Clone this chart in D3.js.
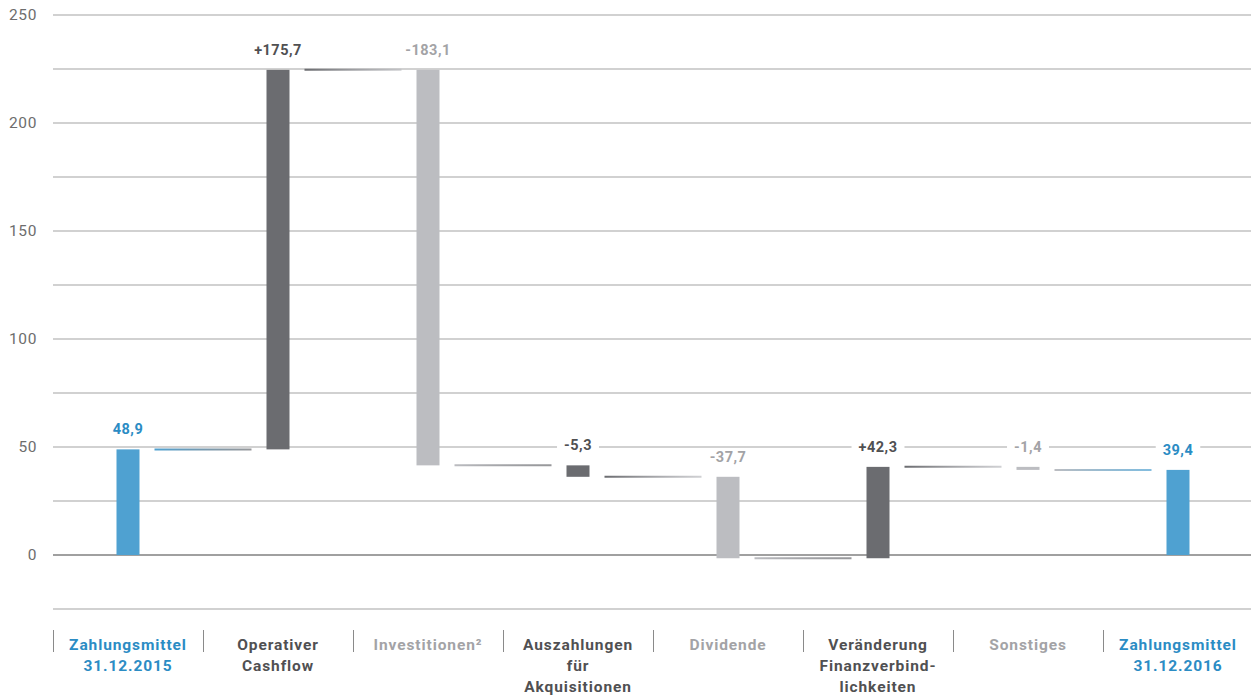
<!DOCTYPE html>
<html>
<head>
<meta charset="utf-8">
<script src="https://cdn.jsdelivr.net/npm/d3@7"></script>
<style>
  html, body { margin: 0; padding: 0; background: #fff; }
  svg { display: block; font-family: Roboto, "Open Sans", sans-serif; }
</style>
</head>
<body>
<svg id="chart" width="1251" height="695"></svg>
<script>
'use strict'

// Kapitalflussrechnung, Mio. EUR
const categories = [
    ['Zahlungsmittel', '31.12.2015'],
    ['Operativer', 'Cashflow'],
    ['Investitionen²'],
    ['Auszahlungen', 'für', 'Akquisitionen'],
    ['Dividende'],
    ['Veränderung', 'Finanzverbind-', 'lichkeiten'],
    ['Sonstiges'],
    ['Zahlungsmittel', '31.12.2016']
]
const values = [48.9, 175.7, -183.1, -5.3, -37.7, 42.3, -1.4, 39.4]
const yTicks = [0, 50, 100, 150, 200, 250]
const gridTicks = [-25, 0, 25, 50, 75, 100, 125, 150, 175, 200, 225, 250]

const W = 1251
const left = 53
const right = 1253

const barFill = { total: '#4fa1d1', dark: '#6b6c70', light: '#bcbdc1' }
const textFill = { total: '#2b8cc4', dark: '#505052', light: '#a3a3a6' }

const tone = (i) => {
    if (i === 0 || i === values.length - 1) {
        return 'total'
    }
    return i % 2 === 1 ? 'dark' : 'light'
}

// running totals for the waterfall
let running = 0
const bars = values.map((v, i) => {
    let start, end
    if (tone(i) === 'total') {
        start = 0
        end = v
        running = v
    } else {
        start = running
        end = running + v
        running = end
    }
    return { i, v, start, end, level: running, tone: tone(i) }
})

const fmt = (d) => {
    const s = Math.abs(d.v).toFixed(1).replace('.', ',')
    if (d.tone === 'total') return s
    return (d.v > 0 ? '+' : '-') + s
}

const x = d3.scaleBand()
    .domain(d3.range(categories.length))
    .range([left, right])
const y = d3.scaleLinear()
    .domain([-25, 250])
    .range([609, 15])

const svg = d3.select('#chart')
const cx = (i) => x(i) + x.bandwidth() / 2
const barW = 23
const gap = 26.5

// grid
svg.append('g')
    .selectAll('line')
    .data(gridTicks)
    .join('line')
    .attr('x1', left)
    .attr('x2', W)
    .attr('y1', d => y(d))
    .attr('y2', d => y(d))
    .attr('stroke', d => d === 0 ? '#808080' : '#a3a3a3')
    .attr('stroke-width', d => d === 0 ? 1.6 : 1)

svg.append('g')
    .selectAll('text')
    .data(yTicks)
    .join('text')
    .attr('x', 37)
    .attr('y', d => y(d) + 1)
    .attr('text-anchor', 'end')
    .attr('dominant-baseline', 'middle')
    .attr('fill', '#6d6d6d')
    .attr('font-size', 15.5)
    .attr('letter-spacing', 0.6)
    .text(d => d)

// connector gradients
const defs = svg.append('defs')
const links = bars.slice(0, -1).map((d, k) => ({
    k,
    x1: cx(k) + gap,
    x2: cx(k + 1) - gap,
    level: d.level,
    from: barFill[d.tone],
    to: barFill[bars[k + 1].tone]
}))

links.forEach((l) => {
    const g = defs.append('linearGradient')
        .attr('id', 'lg' + l.k)
        .attr('gradientUnits', 'userSpaceOnUse')
        .attr('x1', l.x1).attr('x2', l.x2)
        .attr('y1', 0).attr('y2', 0)
    g.append('stop').attr('offset', '0%').attr('stop-color', l.from)
    g.append('stop').attr('offset', '100%').attr('stop-color', l.to).attr('stop-opacity', 0.7)
})

svg.append('g')
    .selectAll('line')
    .data(links)
    .join('line')
    .attr('x1', d => d.x1)
    .attr('x2', d => d.x2)
    .attr('y1', d => y(d.level))
    .attr('y2', d => y(d.level))
    .attr('stroke', d => `url(#lg${d.k})`)
    .attr('stroke-width', 2)

// bars
svg.append('g')
    .selectAll('rect')
    .data(bars)
    .join('rect')
    .attr('x', d => cx(d.i) - barW / 2)
    .attr('width', barW)
    .attr('y', d => y(Math.max(d.start, d.end)))
    .attr('height', d => Math.abs(y(d.start) - y(d.end)))
    .attr('fill', d => barFill[d.tone])

// value labels with white knock-out
const vl = svg.append('g')
    .selectAll('g')
    .data(bars)
    .join('g')
    .attr('transform', d => `translate(${cx(d.i)},${y(Math.max(d.start, d.end)) - 19})`)

vl.append('rect')
    .attr('fill', '#fff')
vl.append('text')
    .attr('text-anchor', 'middle')
    .attr('dominant-baseline', 'middle')
    .attr('font-size', 14.5)
    .attr('font-weight', 700)
    .attr('letter-spacing', 0.5)
    .attr('fill', d => textFill[d.tone])
    .text(fmt)

vl.each(function () {
    const g = d3.select(this)
    const b = g.select('text').node().getBBox()
    g.select('rect')
        .attr('x', b.x - 7)
        .attr('width', b.width + 14)
        .attr('y', -8)
        .attr('height', 16)
})

// category separators
svg.append('g')
    .selectAll('line')
    .data(d3.range(categories.length))
    .join('line')
    .attr('x1', d => x(d) + 0.5)
    .attr('x2', d => x(d) + 0.5)
    .attr('y1', 630)
    .attr('y2', 652)
    .attr('stroke', '#8a8a8a')
    .attr('stroke-width', 1)

// category labels
svg.append('g')
    .selectAll('text')
    .data(categories)
    .join('text')
    .attr('x', (d, i) => cx(i))
    .attr('y', 650)
    .attr('text-anchor', 'middle')
    .attr('font-size', 15.5)
    .attr('font-weight', 700)
    .attr('letter-spacing', 0.9)
    .attr('fill', (d, i) => textFill[tone(i)])
    .each(function (d) {
        d3.select(this)
            .selectAll('tspan')
            .data(d)
            .join('tspan')
            .attr('x', cx(categories.indexOf(d)))
            .attr('dy', (t, j) => j === 0 ? 0 : 21)
            .text(t => t)
    })
</script>
</body>
</html>
